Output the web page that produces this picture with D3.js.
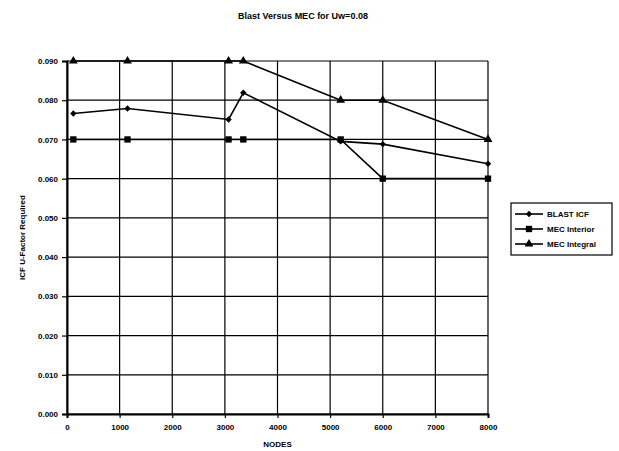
<!DOCTYPE html>
<html><head><meta charset="utf-8">
<script src="https://cdn.jsdelivr.net/npm/d3@7"></script>
<style>body{margin:0;background:#fff}svg{display:block}text{font-family:"Liberation Sans",Arial,sans-serif;fill:#000}</style>
</head><body><svg id="c" width="619" height="451"></svg>
<script>
const nodes = [120, 1150, 3070, 3350, 5200, 6000, 8000];
const blastICF    = [0.0766, 0.0779, 0.0751, 0.0819, 0.0695, 0.0688, 0.0638];
const mecInterior = [0.0700, 0.0700, 0.0700, 0.0700, 0.0700, 0.0600, 0.0600];
const mecIntegral = [0.0900, 0.0900, 0.0900, 0.0900, 0.0800, 0.0800, 0.0700];
const seriesNames = ["BLAST ICF", "MEC Interior", "MEC Integral"];
const xTicks = [0,1000,2000,3000,4000,5000,6000,7000,8000];
const yTicks = [0,0.01,0.02,0.03,0.04,0.05,0.06,0.07,0.08,0.09];

const svg = d3.select("#c");
const m = {l:67, r:131, t:61, b:37};
const W = 619, H = 451;
const x = d3.scaleLinear().domain([0,8000]).range([m.l, W-m.r]);
const y = d3.scaleLinear().domain([0,0.09]).range([H-m.b, m.t]);

// gridlines
const g = svg.append("g");
g.selectAll("line.h").data(yTicks).join("line")
  .attr("x1", m.l).attr("x2", W-m.r).attr("y1", d=>y(d)).attr("y2", d=>y(d))
  .attr("stroke","#000").attr("stroke-width",1.2);
g.selectAll("line.v").data(xTicks).join("line")
  .attr("y1", m.t).attr("y2", H-m.b).attr("x1", d=>x(d)).attr("x2", d=>x(d))
  .attr("stroke","#000").attr("stroke-width",1.2);

// axes
const xa = svg.append("g").attr("transform",`translate(0,${H-m.b})`)
  .call(d3.axisBottom(x).tickValues(xTicks).tickFormat(d3.format("d")).tickSize(4).tickPadding(6));
const ya = svg.append("g").attr("transform",`translate(${m.l},0)`)
  .call(d3.axisLeft(y).tickValues(yTicks).tickFormat(d3.format(".3f")).tickSize(5).tickPadding(4));
[xa, ya].forEach(a=>{
  a.select(".domain").attr("stroke","#000").attr("stroke-width",2);
  a.selectAll(".tick line").attr("stroke","#000").attr("stroke-width",1.2);
  a.selectAll("text").attr("font-size",8).attr("font-weight","bold").style("font-family","Liberation Sans, Arial, sans-serif");
});

// lines
const series = [blastICF, mecInterior, mecIntegral];
const line = d3.line().x((d,i)=>x(nodes[i])).y(d=>y(d));
series.forEach(s=>{
  svg.append("path").datum(s).attr("d", line).attr("fill","none")
    .attr("stroke","#000").attr("stroke-width",1.6);
});
const sym = [d3.symbolDiamond2 || d3.symbolDiamond, d3.symbolSquare, d3.symbolTriangle];
const sz = [26, 40, 34];
series.forEach((s,k)=>{
  svg.append("g").selectAll("path").data(s).join("path")
    .attr("transform",(d,i)=>`translate(${x(nodes[i])},${y(d)})`)
    .attr("d", d3.symbol().type(sym[k]).size(sz[k])).attr("fill","#000");
});

// title
svg.append("text").attr("x",303).attr("y",19).attr("text-anchor","middle")
  .attr("font-size",9).attr("font-weight","bold").text("Blast Versus MEC for Uw=0.08");
// axis titles
svg.append("text").attr("x", x(4000)).attr("y", 447).attr("text-anchor","middle")
  .attr("font-size",8).attr("font-weight","bold").text("NODES");
svg.append("text").attr("transform",`translate(25,${(m.t+H-m.b)/2}) rotate(-90)`)
  .attr("text-anchor","middle").attr("font-size",8).attr("font-weight","bold").text("ICF U-Factor Required");

// legend
const lg = svg.append("g").attr("transform","translate(511,203)");
lg.append("rect").attr("width",101).attr("height",52).attr("fill","#fff").attr("stroke","#000").attr("stroke-width",1.2);
seriesNames.forEach((n,k)=>{
  const yy = 11 + k*15;
  lg.append("line").attr("x1",4).attr("x2",32).attr("y1",yy).attr("y2",yy).attr("stroke","#000").attr("stroke-width",1.6);
  lg.append("path").attr("transform",`translate(18,${yy})`).attr("d", d3.symbol().type(sym[k]).size(sz[k])).attr("fill","#000");
  lg.append("text").attr("x",36).attr("y",yy+3).attr("font-size",8).attr("font-weight","bold").text(n);
});
</script></body></html>
